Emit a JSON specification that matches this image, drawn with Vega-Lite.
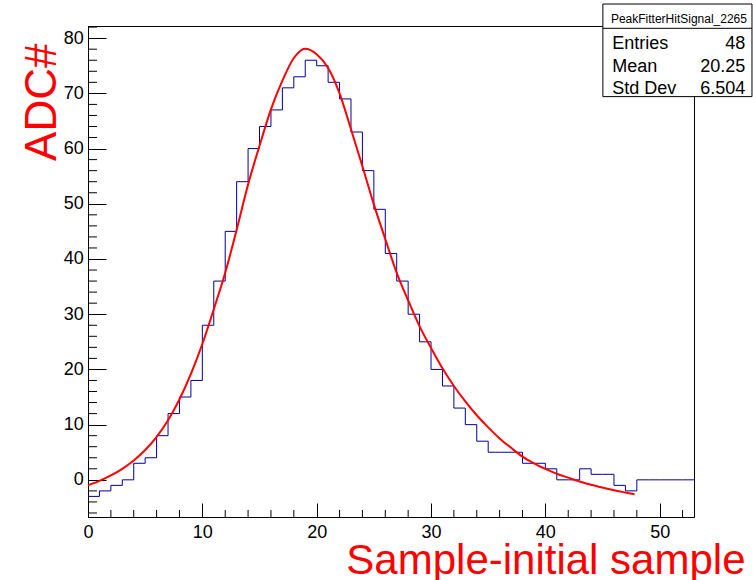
{
  "$schema": "https://vega.github.io/schema/vega-lite/v6.json",
  "width": 606,
  "height": 491,
  "autosize": {"type": "none"},
  "padding": {"left": 88, "top": 26, "right": 59, "bottom": 63},
  "background": "white",
  "config": {
    "font": "Liberation Sans",
    "view": {"stroke": "black", "strokeWidth": 1},
    "axis": {"grid": false, "domainColor": "black", "domainWidth": 1, "tickColor": "black", "tickWidth": 1,
             "labelFont": "Liberation Sans", "labelFontSize": 18, "labelColor": "black",
             "labelFlush": false, "labelOverlap": false, "labelBound": false,
             "titleFont": "Liberation Sans", "titleFontWeight": "normal", "titleColor": "#ff0000"}
  },
  "datasets": {
    "hist": [
      {"x": 0, "y": -3}, {"x": 1, "y": -2}, {"x": 2, "y": -1}, {"x": 3, "y": 0}, {"x": 4, "y": 3},
      {"x": 5, "y": 4}, {"x": 6, "y": 8}, {"x": 7, "y": 12}, {"x": 8, "y": 15}, {"x": 9, "y": 18},
      {"x": 10, "y": 28}, {"x": 11, "y": 36}, {"x": 12, "y": 45}, {"x": 13, "y": 54}, {"x": 14, "y": 60},
      {"x": 15, "y": 64}, {"x": 16, "y": 67}, {"x": 17, "y": 71}, {"x": 18, "y": 73}, {"x": 19, "y": 76},
      {"x": 20, "y": 75}, {"x": 21, "y": 72}, {"x": 22, "y": 69}, {"x": 23, "y": 63}, {"x": 24, "y": 56},
      {"x": 25, "y": 49}, {"x": 26, "y": 41}, {"x": 27, "y": 36}, {"x": 28, "y": 30}, {"x": 29, "y": 25},
      {"x": 30, "y": 20}, {"x": 31, "y": 17}, {"x": 32, "y": 13}, {"x": 33, "y": 10}, {"x": 34, "y": 7},
      {"x": 35, "y": 5}, {"x": 36, "y": 5}, {"x": 37, "y": 5}, {"x": 38, "y": 3}, {"x": 39, "y": 3},
      {"x": 40, "y": 2}, {"x": 41, "y": 0}, {"x": 42, "y": 0}, {"x": 43, "y": 2}, {"x": 44, "y": 1},
      {"x": 45, "y": 1}, {"x": 46, "y": -1}, {"x": 47, "y": -2}, {"x": 48, "y": 0}, {"x": 49, "y": 0},
      {"x": 50, "y": 0}, {"x": 51, "y": 0}, {"x": 52, "y": 0}, {"x": 53, "y": 0}
    ],
    "fit": [
      {"x": 0, "y": -1.0}, {"x": 1, "y": -0.2}, {"x": 2, "y": 0.8}, {"x": 3, "y": 2.0}, {"x": 4, "y": 3.5},
      {"x": 5, "y": 5.4}, {"x": 6, "y": 7.8}, {"x": 7, "y": 10.8}, {"x": 8, "y": 14.6}, {"x": 9, "y": 19.2},
      {"x": 10, "y": 24.6}, {"x": 11, "y": 30.9}, {"x": 12, "y": 37.5}, {"x": 13, "y": 45.3}, {"x": 14, "y": 53.5},
      {"x": 15, "y": 60.5}, {"x": 16, "y": 67.1}, {"x": 17, "y": 72.3}, {"x": 18, "y": 76.4}, {"x": 19, "y": 78.1},
      {"x": 20, "y": 77.1}, {"x": 21, "y": 74.6}, {"x": 22, "y": 70.0}, {"x": 23, "y": 63.5}, {"x": 24, "y": 56.8},
      {"x": 25, "y": 49.9}, {"x": 26, "y": 43.6}, {"x": 27, "y": 37.5}, {"x": 28, "y": 32.5}, {"x": 29, "y": 27.8},
      {"x": 30, "y": 23.9}, {"x": 31, "y": 20.2}, {"x": 32, "y": 17.0}, {"x": 33, "y": 14.2}, {"x": 34, "y": 11.7},
      {"x": 35, "y": 9.5}, {"x": 36, "y": 7.5}, {"x": 37, "y": 5.8}, {"x": 38, "y": 4.2}, {"x": 39, "y": 3.0},
      {"x": 40, "y": 2.0}, {"x": 41, "y": 1.1}, {"x": 42, "y": 0.4}, {"x": 43, "y": -0.3}, {"x": 44, "y": -0.9},
      {"x": 45, "y": -1.4}, {"x": 46, "y": -1.9}, {"x": 47, "y": -2.3}, {"x": 47.8, "y": -2.6}
    ],
    "xminor": [{"t": 2}, {"t": 4}, {"t": 6}, {"t": 8}, {"t": 12}, {"t": 14}, {"t": 16}, {"t": 18}, {"t": 22}, {"t": 24}, {"t": 26}, {"t": 28}, {"t": 32}, {"t": 34}, {"t": 36}, {"t": 38}, {"t": 42}, {"t": 44}, {"t": 46}, {"t": 48}, {"t": 52}],
    "yminor": [{"t": -6}, {"t": -4}, {"t": -2}, {"t": 2}, {"t": 4}, {"t": 6}, {"t": 8}, {"t": 12}, {"t": 14}, {"t": 16}, {"t": 18}, {"t": 22}, {"t": 24}, {"t": 26}, {"t": 28}, {"t": 32}, {"t": 34}, {"t": 36}, {"t": 38}, {"t": 42}, {"t": 44}, {"t": 46}, {"t": 48}, {"t": 52}, {"t": 54}, {"t": 56}, {"t": 58}, {"t": 62}, {"t": 64}, {"t": 66}, {"t": 68}, {"t": 72}, {"t": 74}, {"t": 76}, {"t": 78}, {"t": 82}]
  },
  "layer": [
    {
      "data": {"name": "hist"},
      "mark": {"type": "line", "interpolate": "step-after", "color": "#000099", "strokeWidth": 1},
      "encoding": {
        "x": {"field": "x", "type": "quantitative",
              "scale": {"domain": [0, 53], "nice": false, "zero": false},
              "axis": {"title": "Sample-initial sample", "titleFontSize": 42,
                       "titleX": 657, "titleY": 56.8, "titleAlign": "right", "titleBaseline": "alphabetic", "titleAnchor": "end",
                       "values": [0, 10, 20, 30, 40, 50],
                       "tickSize": -14,
                       "labelOverlap": false, "labelFlush": false,
                       "labelPadding": 20, "labelBaseline": "top"}},
        "y": {"field": "y", "type": "quantitative",
              "scale": {"domain": [-6.73, 82.2], "nice": false, "zero": false},
              "axis": {"title": "ADC#", "titleFontSize": 44, "titleAngle": 270,
                       "titleX": -33, "titleY": 17, "titleAlign": "right", "titleBaseline": "alphabetic", "titleAnchor": "end",
                       "values": [0, 10, 20, 30, 40, 50, 60, 70, 80],
                       "tickSize": -18,
                       "labelOverlap": false, "labelFlush": false,
                       "labelPadding": 22.7}}
      }
    },
    {
      "data": {"name": "xminor"},
      "mark": {"type": "tick", "orient": "vertical", "color": "black", "thickness": 1, "size": 14, "opacity": 1, "clip": true},
      "encoding": {
        "x": {"field": "t", "type": "quantitative"},
        "y": {"datum": -6.73, "type": "quantitative"}
      }
    },
    {
      "data": {"name": "yminor"},
      "mark": {"type": "tick", "orient": "horizontal", "color": "black", "thickness": 1, "size": 18, "opacity": 1, "clip": true},
      "encoding": {
        "y": {"field": "t", "type": "quantitative"},
        "x": {"datum": 0, "type": "quantitative"}
      }
    },
    {
      "data": {"name": "fit"},
      "mark": {"type": "line", "interpolate": "monotone", "color": "#ff0000", "strokeWidth": 2},
      "encoding": {
        "x": {"field": "x", "type": "quantitative"},
        "y": {"field": "y", "type": "quantitative"}
      }
    },
    {
      "data": {"values": [{"box": "stats"}]},
      "mark": {"type": "rect", "fill": "white", "stroke": "black", "strokeWidth": 1},
      "encoding": {
        "x": {"datum": 45.03, "type": "quantitative"},
        "x2": {"datum": 58.07},
        "y": {"datum": 86.18, "type": "quantitative"},
        "y2": {"datum": 69.41}
      }
    },
    {
      "data": {"values": [{"box": "stats"}]},
      "mark": {"type": "rule", "color": "black", "strokeWidth": 1},
      "encoding": {
        "x": {"datum": 45.03, "type": "quantitative"},
        "x2": {"datum": 58.07},
        "y": {"datum": 81.78, "type": "quantitative"}
      }
    },
    {
      "data": {"values": [{"box": "stats"}]},
      "mark": {"type": "text", "font": "Liberation Sans", "fontSize": 12, "align": "center", "baseline": "alphabetic", "color": "black"},
      "encoding": {
        "x": {"datum": 51.68, "type": "quantitative"},
        "y": {"datum": 82.8, "type": "quantitative"},
        "text": {"value": "PeakFitterHitSignal_2265"}
      }
    },
    {
      "data": {"values": [{"box": "stats"}]},
      "mark": {"type": "text", "font": "Liberation Sans", "fontSize": 18, "align": "left", "baseline": "alphabetic", "lineHeight": 22.5, "color": "black"},
      "encoding": {
        "x": {"datum": 45.85, "type": "quantitative"},
        "y": {"datum": 77.98, "type": "quantitative"},
        "text": {"value": ["Entries", "Mean", "Std Dev"]}
      }
    },
    {
      "data": {"values": [{"box": "stats"}]},
      "mark": {"type": "text", "font": "Liberation Sans", "fontSize": 18, "align": "right", "baseline": "alphabetic", "lineHeight": 22.5, "color": "black"},
      "encoding": {
        "x": {"datum": 57.48, "type": "quantitative"},
        "y": {"datum": 77.98, "type": "quantitative"},
        "text": {"value": ["48", "20.25", "6.504"]}
      }
    }
  ]
}
